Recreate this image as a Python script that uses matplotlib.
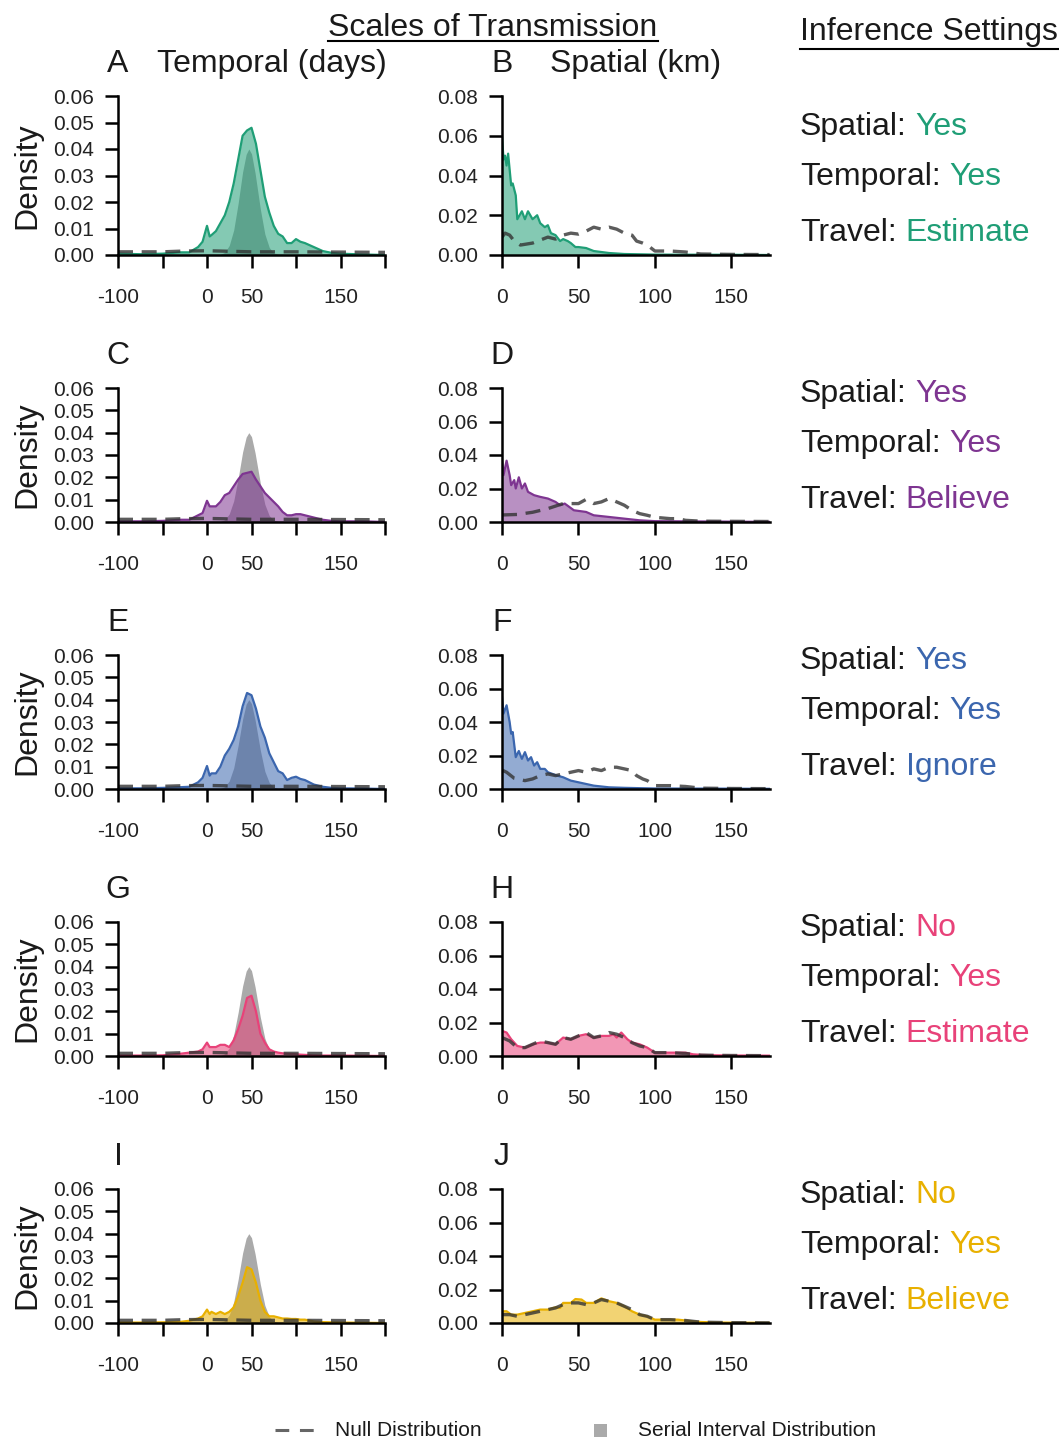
import numpy as np
import matplotlib.pyplot as plt
from matplotlib.lines import Line2D
from matplotlib.patches import Rectangle
from matplotlib.ticker import FormatStrFormatter

plt.rcParams['font.family'] = ['Liberation Sans', 'DejaVu Sans']

# ---- temporal panels (days) ----
days = [-100, -75, -50, -30, -20, -10, -5, 0, 3, 5, 10, 15, 20, 25, 30, 35, 40, 45, 50, 55,
        60, 65, 70, 75, 80, 85, 90, 95, 100, 105, 110, 120, 130, 140, 150, 175, 200]

temp_A = [0.0005, 0.0003, 0.0005, 0.001, 0.001, 0.003, 0.005, 0.011, 0.007, 0.0075, 0.009, 0.012,
          0.015, 0.02, 0.027, 0.036, 0.045, 0.047, 0.048, 0.042, 0.032, 0.022, 0.016, 0.011, 0.008,
          0.007, 0.0045, 0.0045, 0.006, 0.005, 0.0045, 0.003, 0.0015, 0.0008, 0.0005, 0.0002, 0.0]
temp_C = [0.0003, 0.0003, 0.0005, 0.001, 0.001, 0.003, 0.004, 0.0095, 0.007, 0.007, 0.007, 0.009,
          0.012, 0.013, 0.016, 0.019, 0.0215, 0.022, 0.0225, 0.019, 0.016, 0.013, 0.011, 0.009, 0.007,
          0.0045, 0.003, 0.003, 0.0035, 0.0035, 0.003, 0.002, 0.001, 0.0005, 0.0003, 0.0003, 0.0]
temp_E = [0.0003, 0.0003, 0.0005, 0.0008, 0.001, 0.003, 0.005, 0.0103, 0.006, 0.007, 0.007, 0.01,
          0.015, 0.018, 0.022, 0.028, 0.037, 0.043, 0.042, 0.036, 0.028, 0.023, 0.016, 0.012, 0.008,
          0.007, 0.004, 0.005, 0.0055, 0.0045, 0.004, 0.002, 0.001, 0.0005, 0.0003, 0.0002, 0.0]
temp_G = [0.0002, 0.0002, 0.0003, 0.001, 0.0015, 0.002, 0.003, 0.006, 0.004, 0.004, 0.004, 0.005,
          0.005, 0.004, 0.007, 0.012, 0.018, 0.026, 0.027, 0.02, 0.01, 0.006, 0.003, 0.002, 0.0015,
          0.0012, 0.001, 0.0009, 0.0008, 0.0006, 0.0005, 0.0003, 0.0002, 0.0002, 0.0002, 0.0001, 0.0]
temp_I = [0.0002, 0.0002, 0.0003, 0.0005, 0.001, 0.002, 0.003, 0.006, 0.004, 0.005, 0.004, 0.005,
          0.004, 0.005, 0.007, 0.012, 0.018, 0.025, 0.024, 0.018, 0.01, 0.005, 0.003, 0.003, 0.0025,
          0.002, 0.002, 0.0018, 0.0018, 0.0015, 0.0015, 0.0007, 0.0004, 0.0003, 0.0002, 0.0001, 0.0]

# serial interval distribution (grey)
si_days = [15, 20, 25, 30, 35, 40, 44, 47, 50, 54, 60, 65, 70, 75, 80]
si_dens = [0.0002, 0.001, 0.0036, 0.0094, 0.0195, 0.0313, 0.0380, 0.0400, 0.0382, 0.0310,
           0.0172, 0.0079, 0.0028, 0.0008, 0.0002]

# temporal null distribution
null_days = [-100, -50, -25, 0, 25, 50, 100, 150, 200]
null_temp = [0.0012, 0.0012, 0.0015, 0.0016, 0.0014, 0.0012, 0.0012, 0.0011, 0.0010]

# ---- spatial panels (km) ----
km_B = [0, 1, 2, 3, 4, 6, 7, 9, 10, 13, 15, 17, 20, 23, 25, 28, 30, 32, 35, 38, 40, 43, 45, 48,
        50, 55, 60, 65, 70, 80, 100, 150, 175]
spat_B = [0.06, 0.048, 0.05, 0.045, 0.051, 0.035, 0.036, 0.03, 0.018, 0.022, 0.018, 0.022, 0.018,
          0.02, 0.016, 0.014, 0.015, 0.011, 0.01, 0.007, 0.008, 0.007, 0.006, 0.004, 0.004, 0.0035,
          0.002, 0.0015, 0.001, 0.0005, 0.0002, 0.0001, 0.0]
km_D = [0, 1, 3, 5, 6, 8, 9, 11, 13, 15, 17, 19, 21, 25, 30, 35, 38, 41, 47, 55, 60, 70, 80, 90,
        100, 150, 175]
spat_D = [0.037, 0.028, 0.0366, 0.028, 0.022, 0.025, 0.02, 0.0267, 0.02, 0.023, 0.018, 0.017,
          0.016, 0.015, 0.014, 0.012, 0.01, 0.011, 0.007, 0.006, 0.004, 0.003, 0.002, 0.001,
          0.0005, 0.0002, 0.0001]
km_F = [0, 1, 3, 5, 6, 7, 9, 11, 13, 15, 17, 19, 21, 23, 25, 28, 30, 33, 36, 40, 45, 50, 55, 60,
        70, 80, 100, 150, 175]
spat_F = [0.055, 0.045, 0.05, 0.04, 0.033, 0.034, 0.019, 0.0227, 0.018, 0.022, 0.017, 0.019,
          0.014, 0.016, 0.012, 0.012, 0.01, 0.009, 0.008, 0.007, 0.005, 0.004, 0.003, 0.002,
          0.001, 0.0007, 0.0003, 0.0002, 0.0001]
km_H = [0, 3, 6, 10, 15, 20, 25, 30, 35, 40, 45, 50, 55, 60, 65, 70, 73, 75, 78, 82, 85, 90, 95,
        100, 110, 120, 125, 130, 140, 150, 175]
spat_H = [0.015, 0.014, 0.01, 0.006, 0.005, 0.007, 0.008, 0.008, 0.007, 0.011, 0.01, 0.012, 0.013,
          0.011, 0.012, 0.012, 0.013, 0.011, 0.014, 0.01, 0.008, 0.007, 0.005, 0.002, 0.002, 0.002,
          0.001, 0.0007, 0.0004, 0.0003, 0.0002]
km_J = [0, 3, 6, 10, 15, 20, 25, 30, 35, 38, 40, 45, 48, 52, 55, 60, 65, 70, 75, 80, 85, 90, 95,
        100, 110, 115, 120, 125, 130, 140, 150, 175]
spat_J = [0.007, 0.007, 0.005, 0.005, 0.006, 0.007, 0.008, 0.008, 0.0094, 0.009, 0.012, 0.012,
          0.0143, 0.014, 0.012, 0.012, 0.0147, 0.013, 0.012, 0.01, 0.007, 0.005, 0.004, 0.002,
          0.002, 0.002, 0.0015, 0.001, 0.0006, 0.0003, 0.0002, 0.0001]

# spatial null distributions
null_km_B = [0, 2, 5, 8, 12, 20, 30, 35, 40, 45, 50, 55, 60, 65, 70, 75, 80, 85, 88, 92, 95, 100,
             110, 120, 125, 130, 150, 175]
null_B = [0.009, 0.011, 0.01, 0.007, 0.005, 0.006, 0.009, 0.008, 0.01, 0.011, 0.0105, 0.012, 0.014,
          0.013, 0.014, 0.013, 0.011, 0.01, 0.007, 0.006, 0.005, 0.002, 0.002, 0.0015, 0.001,
          0.0005, 0.0003, 0.0002]
null_km_D = [0, 10, 20, 30, 40, 45, 50, 55, 60, 65, 70, 75, 80, 85, 90, 95, 100, 110, 115, 120,
             130, 150, 175]
null_D = [0.0042, 0.0045, 0.0058, 0.008, 0.011, 0.011, 0.011, 0.0135, 0.011, 0.012, 0.014, 0.012,
          0.01, 0.007, 0.005, 0.004, 0.0028, 0.002, 0.002, 0.001, 0.0005, 0.0004, 0.0003]
null_km_F = [0, 3, 8, 15, 20, 25, 30, 35, 40, 45, 50, 55, 60, 65, 70, 75, 80, 85, 88, 92, 95, 100,
             110, 120, 130, 150, 175]
null_F = [0.0113, 0.01, 0.0064, 0.005, 0.006, 0.008, 0.009, 0.008, 0.009, 0.01, 0.011, 0.01, 0.012,
          0.011, 0.013, 0.013, 0.012, 0.011, 0.008, 0.006, 0.005, 0.002, 0.002, 0.0015, 0.0005,
          0.0003, 0.0002]
null_km_H = [0, 5, 10, 15, 20, 25, 30, 35, 40, 45, 50, 55, 60, 65, 70, 75, 80, 85, 90, 95, 100,
             110, 120, 130, 150, 175]
null_H = [0.011, 0.009, 0.005, 0.005, 0.007, 0.009, 0.008, 0.007, 0.011, 0.01, 0.012, 0.014, 0.011,
          0.012, 0.014, 0.013, 0.011, 0.008, 0.006, 0.005, 0.002, 0.002, 0.0015, 0.0005, 0.0003,
          0.0002]
null_km_J = [0, 5, 10, 15, 20, 25, 30, 35, 40, 45, 50, 55, 60, 65, 70, 75, 80, 85, 90, 95, 100,
             110, 120, 130, 150, 175]
null_J = [0.005, 0.005, 0.004, 0.005, 0.006, 0.007, 0.008, 0.009, 0.011, 0.012, 0.012, 0.011, 0.012,
          0.014, 0.013, 0.012, 0.01, 0.008, 0.005, 0.004, 0.002, 0.002, 0.0015, 0.0005, 0.0002,
          0.0001]

colors = ['#1f9e76', '#7e3591', '#3b66ae', '#e84279', '#e8b000']
letters = [('A', 'B'), ('C', 'D'), ('E', 'F'), ('G', 'H'), ('I', 'J')]
temporal = [temp_A, temp_C, temp_E, temp_G, temp_I]
spatial = [(km_B, spat_B), (km_D, spat_D), (km_F, spat_F), (km_H, spat_H), (km_J, spat_J)]
spatial_null = [(null_km_B, null_B), (null_km_D, null_D), (null_km_F, null_F),
                (null_km_H, null_H), (null_km_J, null_J)]
settings_spatial = ['Yes', 'Yes', 'Yes', 'No', 'No']
settings_temporal = ['Yes', 'Yes', 'Yes', 'Yes', 'Yes']
settings_travel = ['Estimate', 'Believe', 'Ignore', 'Estimate', 'Believe']

W, H = 1059, 1440
fig = plt.figure(figsize=(W / 100, H / 100), dpi=100)
text_color = '#1a1a1a'


def fx(px):
    return px / W


def fy(py):
    return 1 - py / H


def style_axis(ax):
    for side in ['top', 'right']:
        ax.spines[side].set_visible(False)
    for side in ['left', 'bottom']:
        ax.spines[side].set_linewidth(1.8)
    ax.tick_params(direction='out', length=9.5, width=1.8, labelsize=15, labelcolor='#222222')
    ax.tick_params(axis='x', pad=14)
    ax.tick_params(axis='y', pad=8)
    ax.yaxis.set_major_formatter(FormatStrFormatter('%.2f'))
    ax.patch.set_alpha(0)


dash = (4.5, 2.6)
null_color = '#333333'

for i in range(5):
    top = 96 if i == 0 else 388 + 267 * (i - 1)
    bottom = 255 + 267 * i
    c = colors[i]

    # temporal
    ax = fig.add_axes([fx(118), fy(bottom), fx(385) - fx(118), (bottom - top) / H])
    ax.fill_between(si_days, si_dens, color='#aaaaaa', lw=0, zorder=1)
    ax.fill_between(days, temporal[i], color=c, alpha=0.55, lw=0, zorder=1.2)
    ax.plot(days, temporal[i], color=c, lw=1.6, zorder=1.5)
    ax.plot(null_days, null_temp, color=null_color, alpha=0.8, lw=2.4, dashes=dash, zorder=1.6)
    ax.set_xlim(-100, 200)
    ax.set_ylim(0, 0.06)
    ax.set_xticks(np.arange(-100, 201, 50))
    ax.set_xticklabels(['-100', '', '0', '50', '', '150', ''])
    ax.set_yticks(np.arange(0, 0.061, 0.01))
    style_axis(ax)
    fig.text(fx(27), fy((top + bottom) / 2), 'Density', rotation=90, fontsize=23,
             ha='center', va='center', color=text_color)

    # spatial
    ax2 = fig.add_axes([fx(502), fy(bottom), fx(769.6) - fx(502), (bottom - top) / H])
    kx, ky = spatial[i]
    nx, ny = spatial_null[i]
    ax2.fill_between(kx, ky, color=c, alpha=0.55, lw=0, zorder=1.2)
    ax2.plot(kx, ky, color=c, lw=1.6, zorder=1.5)
    ax2.plot(nx, ny, color=null_color, alpha=0.8, lw=2.4, dashes=dash, zorder=1.6)
    ax2.set_xlim(0, 175)
    ax2.set_ylim(0, 0.08)
    ax2.set_xticks([0, 50, 100, 150])
    ax2.set_yticks(np.arange(0, 0.081, 0.02))
    style_axis(ax2)

    # panel letters
    fig.text(fx(118), fy(top - 32), letters[i][0], fontsize=23, ha='center', va='center',
             color=text_color)
    fig.text(fx(502), fy(top - 32), letters[i][1], fontsize=23, ha='center', va='center',
             color=text_color)

# column titles
fig.text(fx(157), fy(72), 'Temporal (days)', fontsize=23, ha='left', va='baseline',
         color=text_color)
fig.text(fx(550), fy(72), 'Spatial (km)', fontsize=23, ha='left', va='baseline',
         color=text_color)
t_scales = fig.text(fx(493), fy(36), 'Scales of Transmission', fontsize=23, ha='center',
                    va='baseline', color=text_color)
t_inf = fig.text(fx(800), fy(40), 'Inference Settings', fontsize=23, ha='left', va='baseline',
                 color=text_color)

# settings labels
setting_rows = []
for i in range(5):
    base = [135 + 267 * i, 185 + 267 * i, 241 + 267 * i]
    pairs = [('Spatial:', settings_spatial[i]), ('Temporal:', settings_temporal[i]),
             ('Travel:', settings_travel[i])]
    for (lab, val), b in zip(pairs, base):
        t = fig.text(fx(800), fy(b), lab, fontsize=23, ha='left', va='baseline',
                     color=text_color)
        setting_rows.append((t, val, colors[i], b))

# legend
fig.add_artist(Line2D([fx(275), fx(315)], [fy(1430), fy(1430)], color=null_color, alpha=0.75,
                      lw=2.2, dashes=(4.5, 3.5), transform=fig.transFigure))
fig.text(fx(335), fy(1430), 'Null Distribution', fontsize=15, ha='left', va='center',
         color=text_color)
fig.add_artist(Rectangle((fx(594), fy(1437)), fx(13), 13 / H, color='#aaaaaa', lw=0,
                         transform=fig.transFigure))
fig.text(fx(638), fy(1430), 'Serial Interval Distribution', fontsize=15, ha='left',
         va='center', color=text_color)

# measure text to place coloured values and underlines
fig.canvas.draw()
r = fig.canvas.get_renderer()
for t, val, c, b in setting_rows:
    bb = t.get_window_extent(r)
    fig.text((bb.x1 + 9) / W, fy(b), val, fontsize=23, color=c, ha='left', va='baseline')

for t, off in [(t_scales, 5), (t_inf, 9)]:
    bb = t.get_window_extent(r)
    ybase = t.get_position()[1] - off / H
    fig.add_artist(Line2D([bb.x0 / W, bb.x1 / W], [ybase, ybase], color='black', lw=1.5,
                          transform=fig.transFigure))

fig.savefig('out.png', dpi=100)
